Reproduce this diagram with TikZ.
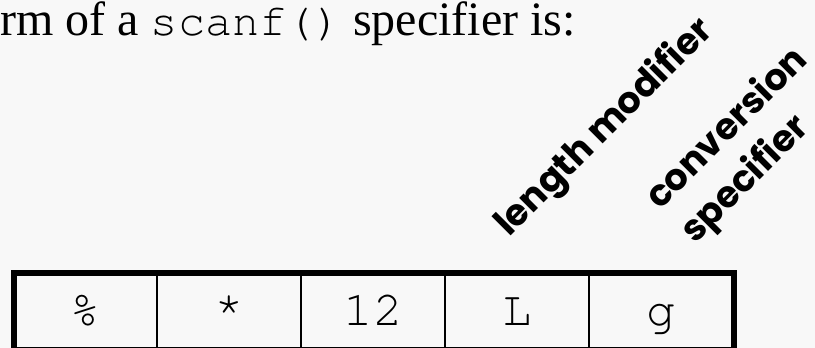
\documentclass[tikz,border=0pt]{standalone}
\usepackage{fontspec}
\setmainfont{Liberation Serif}
\setmonofont{texgyrecursor-regular}[Extension=.otf]
\newfontfamily\lblfont{Poppins}
\definecolor{bgc}{RGB}{248,248,248}
\begin{document}
\begin{tikzpicture}[x=0.75pt,y=0.75pt,
  celltext/.style={font=\ttfamily\fontsize{37}{37}\selectfont, inner sep=0pt, anchor=base},
  lbl/.style={font=\lblfont\bfseries\fontsize{27.5}{27.5}\selectfont, rotate=45, anchor=base west, inner sep=0pt},
  outerline/.style={line width=4.5pt},
  innerline/.style={line width=1.5pt}]
\fill[bgc] (0,0) rectangle (815,348);
\useasboundingbox (0,0) rectangle (815,348);
\node[anchor=base west, inner sep=0pt, font=\fontsize{36}{36}\selectfont] (title) at (0,312) {rm of a {\fontsize{34}{34}\selectfont\texttt{scanf()}} specifier is:};
\node[lbl] (len) at (509,110) {length modifier};
\node[lbl] (conv) at (660,137) {conversion};
\node[lbl] (spec) at (695,103) {specifier};
% table
\draw[innerline] (157,75) -- (157,-2);
\draw[innerline] (301,75) -- (301,-2);
\draw[innerline] (445,75) -- (445,-2);
\draw[innerline] (589,75) -- (589,-2);
\draw[outerline] (14,-2) rectangle (734,75);
\node[celltext] (c1) at (85.5,22) {\%};
\node[celltext] (c2) at (229,22) {*};
\node[celltext] (c3) at (373,22) {12};
\node[celltext] (c4) at (517,22) {L};
\node[celltext] (c5) at (661.5,22) {g};
\end{tikzpicture}
\end{document}
